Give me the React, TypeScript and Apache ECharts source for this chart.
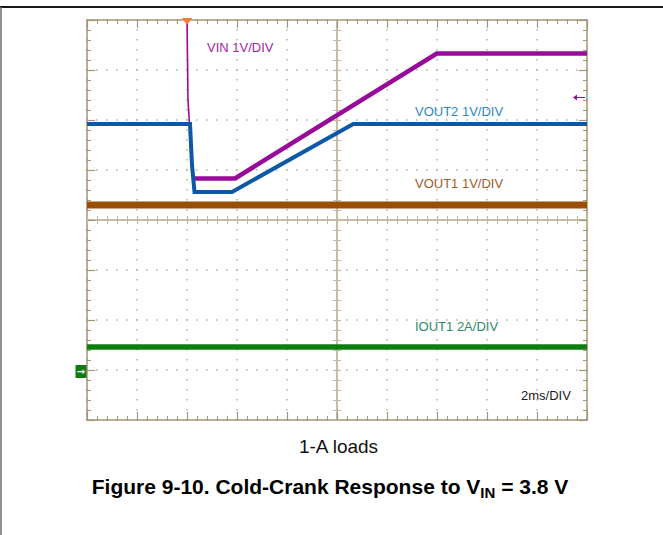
import React, { useEffect, useRef } from 'react';
import * as echarts from 'echarts';

// Time in ms (2 ms/div, 10 divisions); level in screen divisions (0 = bottom edge, 8 = top edge)
const VIN_FALL_T = [4.0, 4.04, 4.16, 4.26];
const VIN_FALL_Y = [8.05, 6.4, 5.4, 4.83];
const VIN_T = [4.26, 5.92, 13.99, 20];
const VIN_Y = [4.83, 4.83, 7.33, 7.33];
const VOUT2_T = [0, 4.12, 4.2, 4.3, 5.8, 10.65, 20];
const VOUT2_Y = [5.92, 5.92, 5.1, 4.56, 4.56, 5.92, 5.92];
const VOUT1_T = [0, 20];
const VOUT1_Y = [4.3, 4.3];
const IOUT1_T = [0, 20];
const IOUT1_Y = [1.46, 1.46];

const TRIGGER_POS = [4.0, 8.0];
const TRIGGER_LEVEL = [20, 6.45];
const IOUT1_GROUND = [0, 0.97];

const CHANNEL_LABELS = ['VIN 1V/DIV', 'VOUT2 1V/DIV', 'VOUT1 1V/DIV', 'IOUT1 2A/DIV'];
const TIMEBASE_LABEL = '2ms/DIV';
const SUBTITLE = '1-A loads';
const TITLE_MAIN = 'Figure 9-10. Cold-Crank Response to V';
const TITLE_SUB = 'IN';
const TITLE_END = ' = 3.8 V';

const FONT = '"Liberation Sans", Arial, Helvetica, sans-serif';
const BORDER = '#a39576';
const CENTER = '#c3baa5';
const DOT = '#b8b1a1';

const zip = (t: number[], v: number[]) => t.map((x, i) => [x, v[i]]);

function xAxisCfg(position: string, offset: number, inside: boolean, color: string, major: number, minor: number, split: boolean) {
  return {
    type: 'value', min: 0, max: 20, interval: 2, position, offset,
    axisLabel: { show: false },
    axisLine: { show: true, onZero: false, lineStyle: { color, width: 1.5 } },
    axisTick: { show: true, inside, length: major, lineStyle: { color, width: 1.2 } },
    minorTick: { show: true, splitNumber: 5, length: minor, lineStyle: { color, width: 1 } },
    splitLine: { show: split, lineStyle: { color: DOT, width: 1.5, type: [1.5, 8.5], dashOffset: 0.75 } },
  };
}
function yAxisCfg(position: string, offset: number, inside: boolean, color: string, major: number, minor: number, split: boolean) {
  return {
    type: 'value', min: 0, max: 8, interval: 1, position, offset,
    axisLabel: { show: false },
    axisLine: { show: true, onZero: false, lineStyle: { color, width: 1.5 } },
    axisTick: { show: true, inside, length: major, lineStyle: { color, width: 1.2 } },
    minorTick: { show: true, splitNumber: 5, length: minor, lineStyle: { color, width: 1 } },
    splitLine: { show: split, lineStyle: { color: DOT, width: 1.5, type: [1.5, 8.5], dashOffset: 0.75 } },
  };
}

function text(x: number, y: number, str: string, fill: string, size: number, align = 'left', weight = 'normal') {
  return {
    type: 'text', x, y, silent: true,
    style: {
      text: str, fill, fontSize: size, fontFamily: FONT, fontWeight: weight,
      align, textAlign: align, verticalAlign: 'middle', textVerticalAlign: 'middle',
    },
  };
}

export default function App() {
  const ref = useRef<HTMLDivElement>(null);
  useEffect(() => {
    if (!ref.current) return;
    const chart = echarts.init(ref.current, null, { renderer: 'svg' });
    const line = (data: number[][], color: string, width: number, z: number, extra: any = {}) => ({
      type: 'line', data, xAxisIndex: 0, yAxisIndex: 0, symbol: 'none', silent: true, z,
      lineStyle: { color, width, cap: 'butt', join: 'miter' }, ...extra,
    });
    chart.setOption({
      animation: false,
      backgroundColor: '#ffffff',
      grid: { left: 87, top: 20, width: 500, height: 400, show: false },
      xAxis: [
        xAxisCfg('bottom', 0, true, BORDER, 8, 4, true),
        xAxisCfg('top', 0, true, BORDER, 8, 4, false),
        xAxisCfg('bottom', -200, true, CENTER, 4, 4, false),
        xAxisCfg('bottom', -200, false, CENTER, 4, 4, false),
      ],
      yAxis: [
        yAxisCfg('left', 0, true, BORDER, 8, 4, true),
        yAxisCfg('right', 0, true, BORDER, 8, 4, false),
        yAxisCfg('left', -250, true, CENTER, 4, 4, false),
        yAxisCfg('left', -250, false, CENTER, 4, 4, false),
      ],
      series: [
        line(zip(VOUT1_T, VOUT1_Y), '#9a4d05', 7, 3),
        line(zip(IOUT1_T, IOUT1_Y), '#0d7d10', 5.5, 3, {
          markPoint: {
            silent: true, symbol: 'rect', symbolSize: [11, 13], symbolOffset: [-6, 0],
            itemStyle: { color: '#0d7d10' },
            label: { show: true, position: 'inside', formatter: '\u2192', color: '#ffffff', fontSize: 10, fontWeight: 'bold', fontFamily: 'DejaVu Sans' },
            data: [{ coord: IOUT1_GROUND }],
          },
        }),
        line(zip(VIN_FALL_T, VIN_FALL_Y), '#9a0a9a', 1.6, 4),
        line(zip(VIN_T, VIN_Y), '#9a0a9a', 4.5, 4, {
          markPoint: {
            silent: true,
            label: { show: false },
            data: [
              { coord: TRIGGER_POS, symbol: 'triangle', symbolRotate: 180, symbolSize: [10, 7], symbolOffset: [0, 1.5], itemStyle: { color: '#f47b3a' } },
              { coord: TRIGGER_LEVEL, symbol: 'path://M0,3 L4,0 L4,2.4 L12,2.4 L12,3.6 L4,3.6 L4,6 Z', symbolSize: [12, 6], symbolOffset: [-8, 0], itemStyle: { color: '#9a0a9a' } },
            ],
          },
        }),
        line(zip(VOUT2_T, VOUT2_Y), '#0c57a8', 4, 5),
      ],
      graphic: [
        { type: 'line', silent: true, shape: { x1: 0, y1: 7, x2: 663, y2: 7 }, style: { stroke: '#1a1a1a', lineWidth: 2 } },
        { type: 'line', silent: true, shape: { x1: 1, y1: 7, x2: 1, y2: 535 }, style: { stroke: '#6e6e6e', lineWidth: 1.5 } },
        text(207, 47, CHANNEL_LABELS[0], '#a326a3', 13),
        text(415, 111, CHANNEL_LABELS[1], '#2b86c6', 13),
        text(415, 183, CHANNEL_LABELS[2], '#a35a2a', 13),
        text(415, 326.5, CHANNEL_LABELS[3], '#2a8a66', 13),
        text(521, 395, TIMEBASE_LABEL, '#1a1a1a', 13),
        text(338.5, 446, SUBTITLE, '#111111', 19, 'center'),
        {
          type: 'text', x: 330, y: 486, silent: true,
          style: {
            text: `{a|${TITLE_MAIN}}{s|${TITLE_SUB}}{a|${TITLE_END}}`,
            align: 'center', textAlign: 'center', verticalAlign: 'middle', textVerticalAlign: 'middle',
            fontFamily: FONT, fontSize: 21, fontWeight: 'bold', fill: '#000',
            rich: {
              a: { fontFamily: FONT, fontSize: 21, fontWeight: 'bold', fill: '#000', lineHeight: 28 },
              s: { fontFamily: FONT, fontSize: 15, fontWeight: 'bold', fill: '#000', lineHeight: 15, verticalAlign: 'bottom' },
            },
          },
        },
      ],
    });
    return () => chart.dispose();
  }, []);
  return <div ref={ref} style={{ position: 'fixed', left: 0, top: 0, width: 663, height: 535, background: '#fff' }} />;
}
